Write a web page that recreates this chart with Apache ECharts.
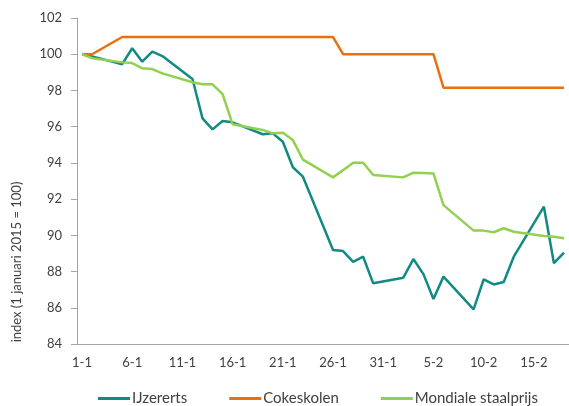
<!DOCTYPE html>
<html>
<head>
<meta charset="utf-8">
<script src="https://cdn.jsdelivr.net/npm/echarts@6/dist/echarts.min.js"></script>
<style>
  html, body { margin: 0; padding: 0; background: #fff; }
  #chart { width: 569px; height: 406px; }
</style>
</head>
<body>
<div id="chart"></div>
<script>
// Trading days (day-month, 2015) with an index value per series (1 januari 2015 = 100)
const tradeDays = ['1-1','2-1','5-1','6-1','7-1','8-1','9-1','12-1','13-1','14-1','15-1','16-1',
  '19-1','20-1','21-1','22-1','23-1','26-1','27-1','28-1','29-1','30-1','2-2','3-2','4-2','5-2',
  '6-2','9-2','10-2','11-2','12-2','13-2','16-2','17-2','18-2'];

const ijzererts = [100, 99.88, 99.45, 100.33, 99.59, 100.14, 99.9, 98.63, 96.46, 95.85, 96.31, 96.24,
  95.58, 95.63, 95.17, 93.76, 93.24, 89.19, 89.13, 88.54, 88.82, 87.35, 87.66, 88.69, 87.86, 86.48,
  87.72, 85.91, 87.57, 87.29, 87.42, 88.82, 91.58, 88.46, 89.04];

const cokeskolen = [100, 100, 100.95, 100.95, 100.95, 100.95, 100.95, 100.95, 100.95, 100.95, 100.95, 100.95,
  100.95, 100.95, 100.95, 100.95, 100.95, 100.95, 100, 100, 100, 100, 100, 100, 100, 100,
  98.15, 98.15, 98.15, 98.15, 98.15, 98.15, 98.15, 98.15, 98.15];

const staalprijs = [100, 99.78, 99.55, 99.51, 99.22, 99.18, 98.94, 98.45, 98.34, 98.34, 97.8, 96.13,
  95.82, 95.63, 95.67, 95.26, 94.18, 93.2, 93.6, 94.01, 94.01, 93.33, 93.2, 93.46, 93.44, 93.42,
  91.67, 90.26, 90.26, 90.17, 90.39, 90.2, 89.96, 89.92, 89.84];

const seriesNames = ['IJzererts', 'Cokeskolen', 'Mondiale staalprijs'];
const seriesColors = ['#128A84', '#EB6F0F', '#92D050'];
const yTicks = { min: 84, max: 102, step: 2 };
const yTitle = 'index (1 januari 2015 = 100)';

// Calendar axis: every day from 1 January to 18 February 2015
const calendar = [];
for (let d = new Date(Date.UTC(2015, 0, 1)); d <= new Date(Date.UTC(2015, 1, 18)); d.setUTCDate(d.getUTCDate() + 1)) {
  calendar.push(d.getUTCDate() + '-' + (d.getUTCMonth() + 1));
}

function onCalendar(values) {
  const out = calendar.map(() => null);
  tradeDays.forEach((day, i) => { out[calendar.indexOf(day)] = values[i]; });
  return out;
}

const font = 'Lato, "Open Sans", sans-serif';
const textColor = '#404040';
const axisGrey = '#A6A6A6';

const chart = echarts.init(document.getElementById('chart'), null, { renderer: 'canvas' });
chart.setOption({
  animation: false,
  textStyle: { fontFamily: font },
  grid: { left: 77, top: 18, width: 495, height: 326, containLabel: false },
  graphic: [{
    type: 'text',
    x: 17,
    y: 262,
    rotation: Math.PI / 2,
    style: {
      text: yTitle,
      fontFamily: font,
      fontSize: 13,
      fill: textColor,
      align: 'center',
      verticalAlign: 'middle'
    }
  }],
  legend: {
    bottom: 0,
    left: 98,
    padding: 0,
    itemWidth: 32,
    itemHeight: 3,
    itemGap: 42,
    icon: 'rect',
    textStyle: { fontFamily: font, fontSize: 15, color: textColor, padding: [0, 0, 0, -3] },
    data: seriesNames
  },
  xAxis: {
    type: 'category',
    data: calendar,
    boundaryGap: true,
    axisLine: { lineStyle: { color: axisGrey, width: 1 } },
    axisTick: { interval: 4, length: 5, lineStyle: { color: axisGrey } },
    axisLabel: { interval: 4, margin: 12, fontSize: 13, color: textColor, fontFamily: font }
  },
  yAxis: {
    type: 'value',
    min: yTicks.min,
    max: yTicks.max,
    interval: yTicks.step,
    splitLine: { show: false },
    axisLine: { show: true, lineStyle: { color: axisGrey, width: 1 } },
    axisTick: { show: true, length: 6, lineStyle: { color: axisGrey } },
    axisLabel: { margin: 15, fontSize: 13, color: textColor, fontFamily: font }
  },
  series: [ijzererts, cokeskolen, staalprijs].map((values, i) => ({
    name: seriesNames[i],
    type: 'line',
    data: onCalendar(values),
    connectNulls: true,
    showSymbol: false,
    symbol: 'none',
    color: seriesColors[i],
    lineStyle: { width: 2.5, color: seriesColors[i] }
  }))
});
</script>
</body>
</html>
